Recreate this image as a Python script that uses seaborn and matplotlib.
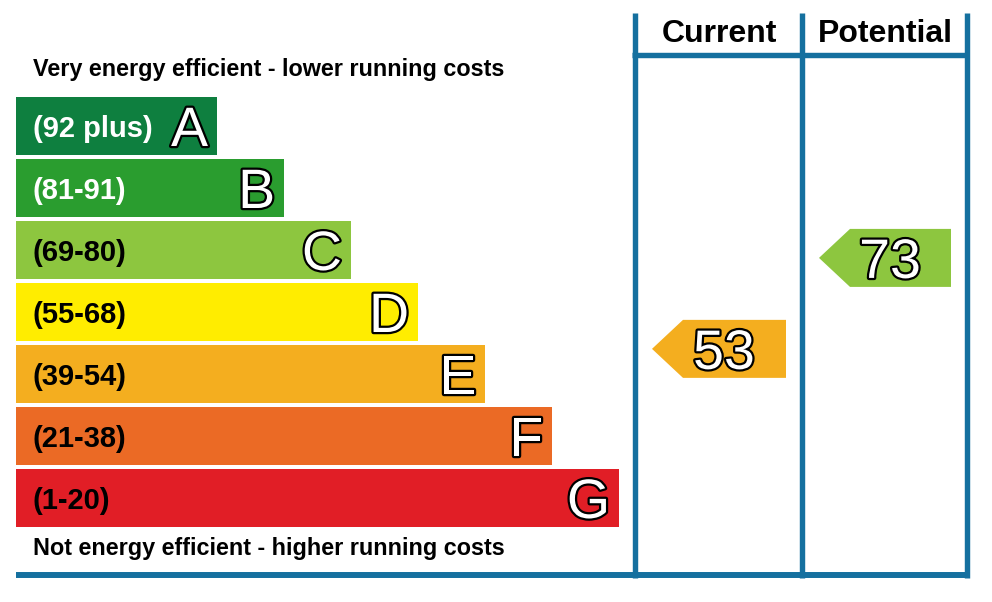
import matplotlib
matplotlib.use("Agg")
import matplotlib.pyplot as plt
import matplotlib.patheffects as pe
import seaborn as sns
import pandas as pd

# ---------------- data ----------------
bands = ["A", "B", "C", "D", "E", "F", "G"]
band_ranges = ["(92 plus)", "(81-91)", "(69-80)", "(55-68)", "(39-54)", "(21-38)", "(1-20)"]
band_low = [92, 81, 69, 55, 39, 21, 1]
band_high = [100, 91, 80, 68, 54, 38, 20]
band_lengths = [3, 4, 5, 6, 7, 8, 9]
band_colors = ["#0e7f3f", "#2a9d2f", "#8dc63f", "#ffed00", "#f4ae1f", "#eb6a25", "#e11e26"]
label_colors = ["white", "white", "black", "black", "black", "black", "black"]
column_titles = ["Current", "Potential"]
column_values = [53, 73]
top_note = "Very energy efficient - lower running costs"
bottom_note = "Not energy efficient - higher running costs"

# ---------------- style ----------------
sns.set_theme(style="white")
plt.rcParams["font.family"] = ["Liberation Sans", "DejaVu Sans"]
LINE = "#15709f"
W, H = 992, 602

fig = plt.figure(figsize=(W / 100, H / 100), dpi=100)
fig.patch.set_facecolor("white")

# overlay axes in pixel units for frame and notes
ax0 = fig.add_axes([0, 0, 1, 1])
ax0.set_xlim(0, W)
ax0.set_ylim(H, 0)
ax0.axis("off")

col_lines = [634.5, 801.5, 966.5]
for xl in col_lines:
    ax0.plot([xl, xl], [13, 578], color=LINE, lw=3.9, solid_capstyle="butt")
ax0.plot([632, 969], [54.5, 54.5], color=LINE, lw=3.9, solid_capstyle="butt")
ax0.plot([16, 970], [575, 575], color=LINE, lw=4.3, solid_capstyle="butt")

for k, t in enumerate(column_titles):
    ax0.text((col_lines[k] + col_lines[k + 1]) / 2 + 1, 42, t, ha="center", va="baseline",
             fontsize=23, fontweight="bold", color="black")
ax0.text(33, 76, top_note, ha="left", va="baseline", fontsize=16.8, fontweight="bold", color="black")
ax0.text(33, 555, bottom_note, ha="left", va="baseline", fontsize=16.8, fontweight="bold", color="black")

# bars axes
top_px, bot_px = 95, 529
rect = [16 / W, (H - bot_px) / H, 603 / W, (bot_px - top_px) / H]
axb = fig.add_axes(rect)
df = pd.DataFrame({"band": bands, "length": band_lengths})
bar_w = 58 / 62
sns.barplot(data=df, x="length", y="band", hue="band", palette=band_colors, orient="h",
            width=bar_w, saturation=1, linewidth=0, legend=False, ax=axb)
axb.set_xlim(0, 9)
axb.set_ylim(6.5, -0.5)
axb.axis("off")

stroke = [pe.withStroke(linewidth=3.2, foreground="black")]
for i, (rng, ln) in enumerate(zip(band_ranges, band_lengths)):
    axb.annotate(rng, xy=(0, i), xytext=(17, -11), textcoords="offset pixels",
                 ha="left", va="baseline", fontsize=21, fontweight="bold", color=label_colors[i])
    axb.annotate(bands[i], xy=(ln, i), xytext=(-9, -20), textcoords="offset pixels",
                 ha="right", va="baseline", fontsize=40, color="white", path_effects=stroke)

# arrows axes (same vertical scale as bars)
axc = fig.add_axes([0, rect[1], 1, rect[3]])
axc.set_xlim(0, W)
axc.set_ylim(6.5, -0.5)
axc.axis("off")

for k, v in enumerate(column_values):
    i = next(j for j in range(len(bands)) if band_low[j] <= v <= band_high[j])
    yc = i - bar_w / 2 + (band_high[i] - v) / (band_high[i] - band_low[i]) * bar_w
    left = col_lines[k] + 17.5
    right = col_lines[k + 1] - 15.5
    tip = 31
    xs = [right, left + tip, left, left + tip, right]
    ys = [yc - bar_w / 2, yc - bar_w / 2, yc, yc + bar_w / 2, yc + bar_w / 2]
    axc.fill(xs, ys, color=band_colors[i], lw=0)
    axc.annotate(str(v), xy=((left + right) / 2 + 5, yc), xytext=(0, -20), textcoords="offset pixels",
                 ha="center", va="baseline", fontsize=40, color="white", path_effects=stroke)

fig.savefig("out.png", dpi=100, facecolor="white")
